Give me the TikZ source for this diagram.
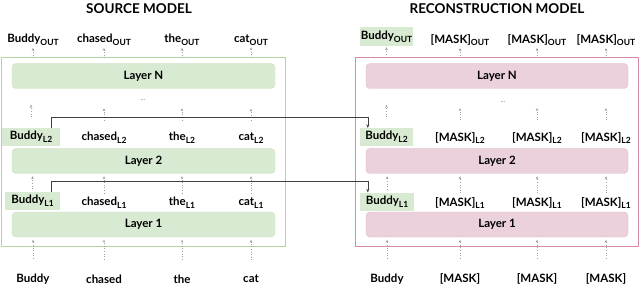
\documentclass[tikz,border=0pt]{standalone}
\usepackage{fontspec}
\setmainfont{Lato}
\usetikzlibrary{calc, positioning, arrows.meta}

\definecolor{srcfill}{HTML}{D9EAD3}
\definecolor{srcline}{HTML}{B2D6A3}
\definecolor{srcedge}{HTML}{C8DFBE}
\definecolor{recfill}{HTML}{EAD1DC}
\definecolor{recline}{HTML}{D58AAB}
\definecolor{recedge}{HTML}{DDB8C9}

\newcommand{\lsub}[1]{\raisebox{-0.45ex}{\fontsize{8.5}{9}\selectfont #1}}

\tikzset{
  word/.style={font=\bfseries\fontsize{11.5}{13}\selectfont, inner sep=1pt},
  title/.style={font=\bfseries\fontsize{13.5}{15}\selectfont},
  srclayer/.style={draw=srcedge, fill=srcfill, rounded corners=4pt, minimum width=263pt,
    minimum height=25pt, font=\bfseries\fontsize{11.5}{13}\selectfont},
  reclayer/.style={draw=recedge, fill=recfill, rounded corners=4pt, minimum width=262pt,
    minimum height=25pt, font=\bfseries\fontsize{11.5}{13}\selectfont},
  hilite/.style={word, fill=srcfill, minimum height=18pt, inner sep=0pt},
  flow/.style={-{Stealth[length=3pt,width=2.6pt]}, gray!75, dotted, semithick},
  link/.style={-{Stealth[length=3.5pt,width=3pt]}, black!75, thin}
}

\begin{document}
\begin{tikzpicture}[x=1pt, y=-1pt]
  \useasboundingbox (0,0) rectangle (640,286);

  % Titles
  \node[title] (stitle) at (139,9) {SOURCE MODEL};
  \node[title] (rtitle) at (497,9) {RECONSTRUCTION MODEL};

  % Outer frames
  \draw[srcline, thick] (1,57) rectangle (285,246);
  \draw[recline, thick] (355,57) rectangle (638,246);

  % Source model layers
  \node[srclayer] (sLN) at (143.5,76) {Layer N};
  \node[srclayer] (sL2) at (143.5,161) {Layer 2};
  \node[srclayer] (sL1) at (143.5,224.5) {Layer 1};
  \node[gray, font=\scriptsize] (sdots) at (143,100) {...};

  % Reconstruction model layers
  \node[reclayer] (rLN) at (497,76) {Layer N};
  \node[reclayer] (rL2) at (497,161) {Layer 2};
  \node[reclayer] (rL1) at (497,224.5) {Layer 1};
  \node[gray, font=\scriptsize] (rdots) at (503,102) {...};

  % Source model tokens
  \node[word] (sin1) at (33,279) {Buddy};
  \node[word] (sin2) at (104,279) {chased};
  \node[word] (sin3) at (182,279) {the};
  \node[word] (sin4) at (251,279) {cat};

  \node[hilite, minimum width=55pt] (sh1a) at (32.5,201) {Buddy\lsub{L1}};
  \node[word] (sh1b) at (104,203) {chased\lsub{L1}};
  \node[word] (sh1c) at (182,203) {the\lsub{L1}};
  \node[word] (sh1d) at (251,203) {cat\lsub{L1}};

  \node[hilite, minimum width=58pt] (sh2a) at (31,137) {Buddy\lsub{L2}};
  \node[word] (sh2b) at (104,138) {chased\lsub{L2}};
  \node[word] (sh2c) at (182,138) {the\lsub{L2}};
  \node[word] (sh2d) at (251,138) {cat\lsub{L2}};

  \node[word] (sout1) at (33,40) {Buddy\lsub{OUT}};
  \node[word] (sout2) at (104,40) {chased\lsub{OUT}};
  \node[word] (sout3) at (182,40) {the\lsub{OUT}};
  \node[word] (sout4) at (251,40) {cat\lsub{OUT}};

  % Reconstruction model tokens
  \node[word] (rin1) at (387,279) {Buddy};
  \node[word] (rin2) at (460,279) {[MASK]};
  \node[word] (rin3) at (537,279) {[MASK]};
  \node[word] (rin4) at (606,279) {[MASK]};

  \node[hilite, minimum width=54pt] (rh1a) at (387,201.5) {Buddy\lsub{L1}};
  \node[word] (rh1b) at (460,203) {[MASK]\lsub{L1}};
  \node[word] (rh1c) at (537,203) {[MASK]\lsub{L1}};
  \node[word] (rh1d) at (606,203) {[MASK]\lsub{L1}};

  \node[hilite, minimum width=53pt] (rh2a) at (386.5,137) {Buddy\lsub{L2}};
  \node[word] (rh2b) at (460,138) {[MASK]\lsub{L2}};
  \node[word] (rh2c) at (537,138) {[MASK]\lsub{L2}};
  \node[word] (rh2d) at (606,138) {[MASK]\lsub{L2}};

  \node[hilite, minimum width=53pt, minimum height=19pt] (rout1) at (386.5,36.5) {Buddy\lsub{OUT}};
  \node[word] (rout2) at (460,40) {[MASK]\lsub{OUT}};
  \node[word] (rout3) at (537,40) {[MASK]\lsub{OUT}};
  \node[word] (rout4) at (606,40) {[MASK]\lsub{OUT}};

  % Dotted flow arrows
  \foreach \m in {s,r} {
    \foreach \i/\j in {1/a,2/b,3/c,4/d} {
      \draw[flow, shorten <=14pt, shorten >=2.5pt] (\m in\i.north) -- (\m in\i.north |- \m L1.south);
      \draw[flow, shorten <=3pt, shorten >=2.5pt] (\m h1\j.north) -- (\m h1\j.north |- \m L2.south);
      \draw[flow] (\m h2\j.north) ++(0,-11) -- ++(0,-12);
      \draw[flow] (\m out\i.south) ++(0,11) -- ++(0,-10);
    }
  }

  % Hidden state transfer
  \draw[link] ([xshift=-9pt]sh2a.north east) -- ++(0,-11) -| ([xshift=8pt]rh2a.north west);
  \draw[link] ([xshift=-9pt]sh1a.north east) -- ++(0,-11) -| ([xshift=8pt]rh1a.north west);
\end{tikzpicture}
\end{document}
